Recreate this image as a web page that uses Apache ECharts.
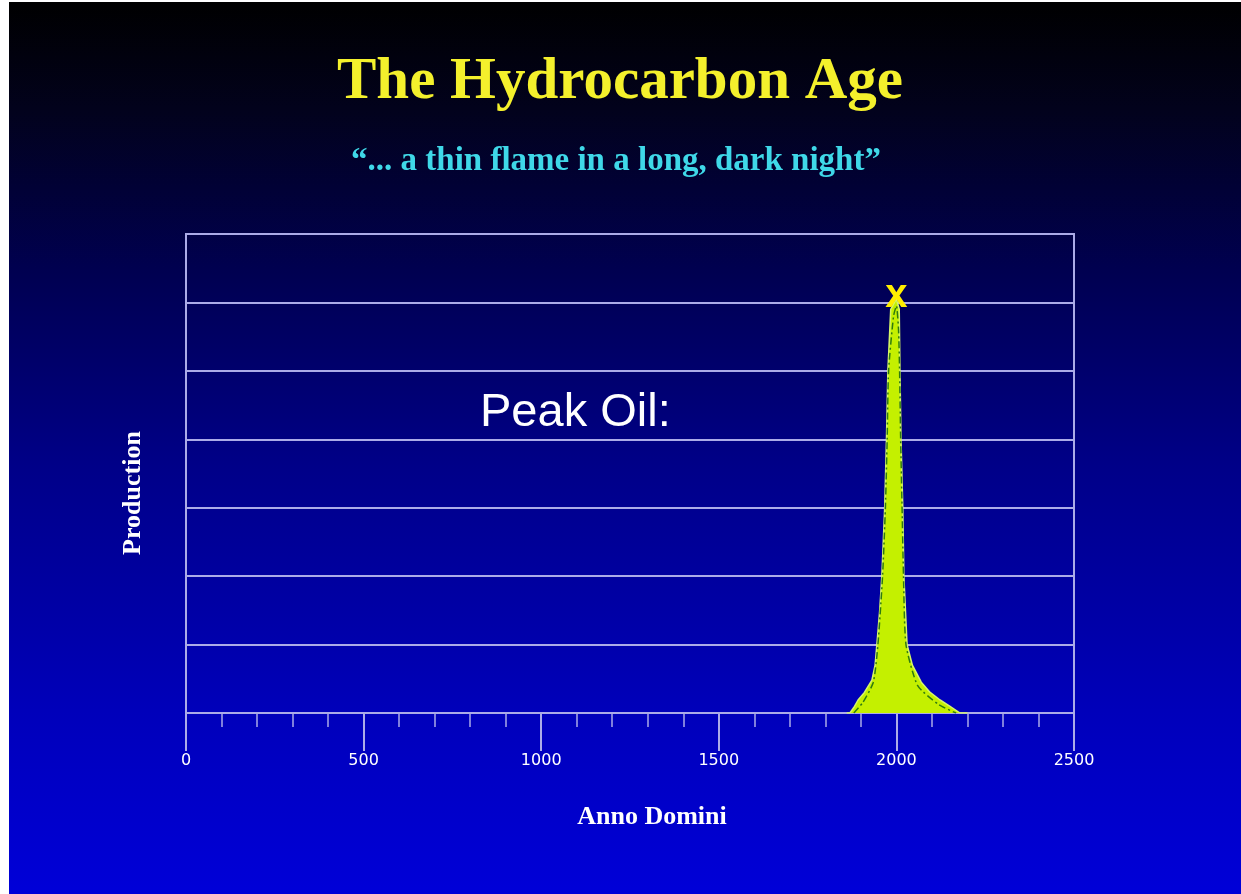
<!DOCTYPE html>
<html>
<head>
<meta charset="utf-8">
<script src="https://cdn.jsdelivr.net/npm/echarts@6/dist/echarts.min.js"></script>
<style>
  html, body { margin: 0; padding: 0; background: #ffffff; }
  #bg {
    position: absolute; left: 9px; top: 2px; width: 1232px; height: 892px;
    background: linear-gradient(to bottom, #000000 0%, #02021c 12%, #000050 30%, #000088 52%, #0000bb 80%, #0000d8 100%);
  }
  #main { position: absolute; left: 0; top: 0; width: 1241px; height: 894px; }
</style>
</head>
<body>
<div id="bg"></div>
<div id="main"></div>
<script>
// years on the x axis, production on the y axis (arbitrary units, 0..7)
var years = [1860, 1869, 1880, 1892, 1910, 1931, 1940, 1945, 1953, 1959, 1967, 1972, 1976, 1984, 2000,
             2008, 2010, 2013, 2018, 2021, 2030, 2045, 2070, 2095, 2123, 2150, 2179, 2200];
var production = [0, 0, 0.08, 0.19, 0.3, 0.48, 0.7, 1.0, 1.5, 2.0, 3.0, 4.0, 5.0, 5.9, 6.05,
                  5.9, 5.0, 4.0, 3.0, 2.0, 1.0, 0.7, 0.45, 0.3, 0.19, 0.1, 0, 0];

// inner dash-dot curve
var innerYears = [1880, 1905, 1935, 1948, 1961, 1969, 1974, 1978, 1992, 2000, 2006, 2009, 2012, 2016, 2020, 2027, 2060, 2120, 2168];
var innerProd = [0, 0.15, 0.45, 1.0, 2.0, 3.0, 4.0, 5.0, 5.8, 5.95, 5.6, 5.0, 4.0, 3.0, 2.0, 1.0, 0.4, 0.12, 0];

var peakYear = 2000;
var peakValue = 6.1;

var xTicks = [0, 500, 1000, 1500, 2000, 2500];

var lineCol = '#ababe8';

function pairs(xs, ys) {
    var out = [];
    for (var i = 0; i < xs.length; i++) {
        out.push([xs[i], ys[i]]);
    }
    return out;
}

var myChart = echarts.init(document.getElementById('main'));
var option = {
    backgroundColor: 'transparent',
    animation: false,
    title: [
        {
            text: 'The Hydrocarbon Age',
            left: 615, top: 48, textAlign: 'center',
            textStyle: {color: '#f4f02c', fontFamily: 'Liberation Serif', fontWeight: 'bold', fontSize: 59}
        },
        {
            text: '\u201c... a thin flame in a long, dark night\u201d',
            left: 611, top: 140, textAlign: 'center',
            textStyle: {color: '#3fd8e8', fontFamily: 'Liberation Serif', fontWeight: 'bold', fontSize: 33}
        }
    ],
    graphic: [
        {
            type: 'text', left: 480, top: 390,
            style: {text: 'Peak Oil:', fill: '#ffffff', font: '47px "Liberation Sans"'}
        },
        {
            type: 'text', x: 133, y: 493, rotation: Math.PI / 2,
            style: {text: 'Production', fill: '#ffffff', font: 'bold 26px "Liberation Serif"',
                    align: 'center', verticalAlign: 'middle'}
        },
        {
            type: 'text', x: 652, y: 817,
            style: {text: 'Anno Domini', fill: '#ffffff', font: 'bold 26px "Liberation Serif"',
                    align: 'center', verticalAlign: 'middle'}
        }
    ],
    grid: {
        left: 186, right: 167, top: 234, bottom: 181,
        show: true, borderColor: lineCol, borderWidth: 2
    },
    xAxis: {
        type: 'value', min: 0, max: 2500, interval: 500,
        axisLine: {show: true, lineStyle: {color: lineCol, width: 2}},
        axisTick: {show: true, length: 38, lineStyle: {color: lineCol, width: 2}},
        minorTick: {show: true, splitNumber: 5, length: 14, lineStyle: {color: lineCol, width: 1.5}},
        axisLabel: {
            color: '#ffffff', fontFamily: 'DejaVu Sans', fontSize: 16, margin: 40,
            formatter: function (v) { return xTicks.indexOf(v) >= 0 ? String(v) : ''; }
        },
        splitLine: {show: false}
    },
    yAxis: {
        type: 'value', min: 0, max: 7, interval: 1,
        axisLine: {show: false},
        axisTick: {show: false},
        axisLabel: {show: false},
        splitLine: {show: true, lineStyle: {color: lineCol, width: 2}}
    },
    series: [
        {
            type: 'line',
            data: pairs(years, production),
            symbol: 'none',
            lineStyle: {color: '#d4f56a', width: 1.5},
            areaStyle: {color: '#c4f000', opacity: 1},
            z: 3
        },
        {
            type: 'line',
            data: pairs(innerYears, innerProd),
            symbol: 'none',
            smooth: 0.2,
            lineStyle: {color: '#2e7a10', width: 1.5, type: [7, 3, 2, 3]},
            z: 4
        },
        {
            type: 'scatter',
            data: [[peakYear, peakValue]],
            symbolSize: 1,
            itemStyle: {color: 'rgba(0,0,0,0)', opacity: 1},
            label: {
                show: true, position: 'inside', formatter: 'x',
                color: '#ffee00', fontFamily: 'Liberation Sans', fontWeight: 'bold', fontSize: 40
            },
            z: 5
        }
    ]
};
myChart.setOption(option);
</script>
</body>
</html>
